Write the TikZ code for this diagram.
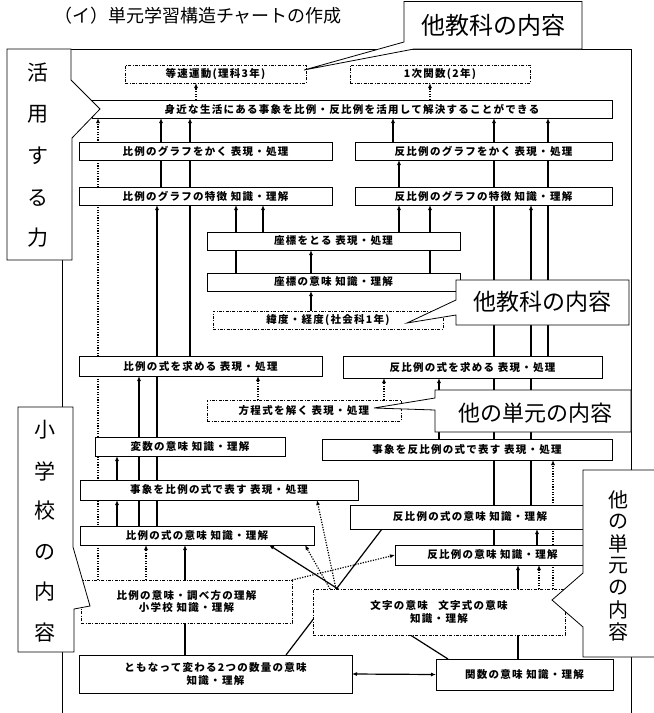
\documentclass[tikz,border=0pt]{standalone}
\usepackage{fontspec}
\setmainfont{Noto Sans CJK JP}
\newfontfamily\bxfont[LetterSpace=12]{Noto Sans CJK JP}
\usetikzlibrary{arrows.meta,backgrounds}
\begin{document}
\begin{tikzpicture}[x=1pt,y=-1pt,
 every node/.style={inner sep=0pt, outer sep=0pt},
 bx/.style={draw, line width=0.7pt, fill=white, font=\bxfont\fontsize{10.5}{12.5}\selectfont\bfseries, align=center},
 bxo/.style={bx, dash pattern=on 3pt off 1.5pt on 0.8pt off 1.5pt},
 con/.style={line width=1.2pt},
 arr/.style={con, -{Latex[length=5pt,width=4pt]}},
 dotarr/.style={arr, dash pattern=on 1.2pt off 1.4pt},
 callout/.style={draw, line width=0.8pt, fill=white},
 vch/.style={font=\fontsize{21}{21}\selectfont},
 vch2/.style={font=\fontsize{20}{20}\selectfont},
]
\useasboundingbox (0,0) rectangle (654,713);

% boxes
\node[bxo, minimum width=181pt, minimum height=18pt] (tousoku) at (215.5,74) {等速運動(理科3年)};
\node[bxo, minimum width=180pt, minimum height=18pt] (ichiji) at (440,74) {1次関数(2年)};
\node[bx, minimum width=520pt, minimum height=18pt] (banner) at (352,109) {身近な生活にある事象を比例・反比例を活用して解決することができる};
\node[bx, minimum width=253pt, minimum height=18pt] (hgk) at (205.5,151) {比例のグラフをかく 表現・処理};
\node[bx, minimum width=257pt, minimum height=18pt] (rhgk) at (483.5,151) {反比例のグラフをかく 表現・処理};
\node[bx, minimum width=253pt, minimum height=18pt] (hgt) at (205.5,196) {比例のグラフの特徴 知識・理解};
\node[bx, minimum width=257pt, minimum height=18pt] (rhgt) at (483.5,196) {反比例のグラフの特徴 知識・理解};
\node[bx, minimum width=253pt, minimum height=18pt] (zt) at (333.5,241) {座標をとる 表現・処理};
\node[bx, minimum width=253pt, minimum height=18pt] (zi) at (333.5,282) {座標の意味 知識・理解};
\node[bxo, minimum width=230pt, minimum height=18pt] (ido) at (328,320) {緯度・経度(社会科1年)};
\node[bx, minimum width=243pt, minimum height=20pt] (hs) at (200.5,366) {比例の式を求める 表現・処理};
\node[bx, minimum width=259pt, minimum height=22pt] (rhs) at (472.5,367) {反比例の式を求める 表現・処理};
\node[bxo, minimum width=194pt, minimum height=21pt] (hot) at (304,410.5) {方程式を解く 表現・処理};
\node[bx, minimum width=190pt, minimum height=19pt] (hen) at (190,446.5) {変数の意味 知識・理解};
\node[bx, minimum width=290pt, minimum height=21pt] (rji) at (467,449.5) {事象を反比例の式で表す 表現・処理};
\node[bx, minimum width=278pt, minimum height=20pt] (ji) at (219,490) {事象を比例の式で表す 表現・処理};
\node[bx, minimum width=240pt, minimum height=24pt] (rsi) at (470,517) {反比例の式の意味 知識・理解};
\node[bx, minimum width=234pt, minimum height=19pt] (si) at (197,535.5) {比例の式の意味 知識・理解};
\node[bx, minimum width=195pt, minimum height=20pt] (ri) at (492.5,555) {反比例の意味 知識・理解};
\node[bxo, minimum width=211pt, minimum height=43pt] (himi) at (186.5,601.5) {比例の意味・調べ方の理解\\小学校 知識・理解};
\node[bxo, minimum width=252pt, minimum height=46pt] (moji) at (439,612) {文字の意味\quad 文字式の意味\\知識・理解};
\node[bx, minimum width=273pt, minimum height=38pt] (tomo) at (215.5,674) {ともなって変わる2つの数量の意味\\知識・理解};
\node[bx, minimum width=177pt, minimum height=31pt] (kansu) at (524.5,674.5) {関数の意味 知識・理解};

\begin{pgfonlayer}{background}
\draw[line width=0.8pt] (7,49) -- (631,49) -- (631,713);
\draw[line width=0.8pt] (62,49) -- (62,713);
\draw[dotarr] (banner.north -| 196,0) -- (tousoku.south -| 196,0);
\draw[dotarr] (banner.north -| 430,0) -- (ichiji.south -| 430,0);
\draw[dotarr] (himi.north -| 98,0) -- (banner.south -| 98,0);
\draw[arr] (hgt.north -| 161,0) -- (banner.south -| 161,0);
\draw[arr] (hs.north -| 190,0) -- (banner.south -| 190,0);
\draw[arr] (rhgk.north -| 393,0) -- (banner.south -| 393,0);
\draw[arr] (ri.north -| 494,0) -- (banner.south -| 494,0);
\draw[arr] (rhs.north -| 548,0) -- (banner.south -| 548,0);
\draw[arr] (rhgt.north -| 399,0) -- (rhgk.south -| 399,0);
\draw[arr] (si.north -| 157,0) -- (hgt.south -| 157,0);
\draw[arr] (zi.north -| 236,0) -- (hgt.south -| 236,0);
\draw[arr] (zt.north -| 263,0) -- (hgt.south -| 263,0);
\draw[arr] (zt.north -| 399,0) -- (rhgt.south -| 399,0);
\draw[arr] (zi.north -| 430,0) -- (rhgt.south -| 430,0);
\draw[arr] (rsi.north -| 531,0) -- (rhgt.south -| 531,0);
\draw[arr] (zi.north -| 311,0) -- (zt.south -| 311,0);
\draw[arr] (ido.north -| 311,0) -- (zi.south -| 311,0);
\draw[arr] (si.north -| 139,0) -- (hs.south -| 139,0);
\draw[dotarr] (hot.north -| 258,0) -- (hs.south -| 258,0);
\draw[dotarr] (hot.north -| 384,0) -- (rhs.south -| 384,0);
\draw[arr] (ji.north -| 117,0) -- (hen.south -| 117,0);
\draw[arr] (si.north -| 117,0) -- (ji.south -| 117,0);
\draw[dotarr] (himi.north -| 146,0) -- (si.south -| 146,0);
\draw[arr] (tomo.north -| 185,0) -- (si.south -| 185,0);
\draw[arr] (rji.north -| 439,0) -- (rhs.south -| 439,0);
\draw[arr] (ri.north -| 537,0) -- (rsi.south -| 537,0);
\draw[dotarr] (moji.north -| 553,0) -- (rji.south -| 553,0);
\draw[dotarr] (moji.north -| 539,0) -- (ri.south -| 539,0);
\draw[arr] (kansu.north -| 518,0) -- (ri.south -| 518,0);
\draw[con] (tomo.north -| 286,0) -- (rsi.south -| 382,0);
\draw[arr] (kansu.north -| 448,0) -- (si.south -| 269,0);
\draw[dotarr] (moji.north -| 330,0) -- (si.south -| 305,0);
\draw[dotarr] (moji.north -| 336,0) -- (ji.south -| 317,0);
\draw[dotarr] (himi.north east) -- (ri.west);
\draw[con, {Latex[length=5pt,width=4pt]}-{Latex[length=5pt,width=4pt]}] (tomo.east) -- (kansu.west);
\end{pgfonlayer}

% callouts
\draw[callout] (7,49) -- (71,49) -- (71,80) -- (100,109) -- (72,138) -- (72,260) -- (7,260) -- cycle;
\draw[callout] (18,407) -- (73,407) -- (73,547) -- (90,606) -- (74,609) -- (74,652) -- (18,652) -- cycle;
\draw[callout] (404,1.5) -- (582,1.5) -- (582,49) -- (414,49) -- (304,70) -- (404,42) -- cycle;
\draw[callout] (456,280) -- (629,280) -- (629,325) -- (456,325) -- (456,315) -- (407,323) -- (456,300) -- cycle;
\draw[callout] (435,390) -- (631,390) -- (631,432) -- (435,432) -- (435,410) -- (374,408) -- (435,398) -- cycle;
\draw[callout] (583,470) -- (660,470) -- (660,657) -- (583,657) -- (583,627) -- (552,600) -- (583,573) -- cycle;

% texts
\node[font=\fontsize{18}{18}\selectfont] (title) at (198,16) {（イ）単元学習構造チャートの作成};
\node[font=\fontsize{24}{24}\selectfont] (c1) at (493,25) {他教科の内容};
\node[font=\fontsize{23}{23}\selectfont] (c2) at (542,302) {他教科の内容};
\node[font=\fontsize{22}{22}\selectfont] (c3) at (535,413) {他の単元の内容};

\node[vch] (k1) at (38,73) {活};
\node[vch] (k2) at (38,114) {用};
\node[vch] (k3) at (38,156) {す};
\node[vch] (k4) at (38,198) {る};
\node[vch] (k5) at (38,238) {力};

\node[vch] (s1) at (45,430) {小};
\node[vch] (s2) at (45,471) {学};
\node[vch] (s3) at (45,511) {校};
\node[vch] (s4) at (45,552) {の};
\node[vch] (s5) at (45,592) {内};
\node[vch] (s6) at (45,633) {容};

\node[vch2] (t1) at (618,500) {他};
\node[vch2] (t2) at (618,522) {の};
\node[vch2] (t3) at (618,544) {単};
\node[vch2] (t4) at (618,566) {元};
\node[vch2] (t5) at (618,588) {の};
\node[vch2] (t6) at (618,610) {内};
\node[vch2] (t7) at (618,632) {容};
\end{tikzpicture}
\end{document}
